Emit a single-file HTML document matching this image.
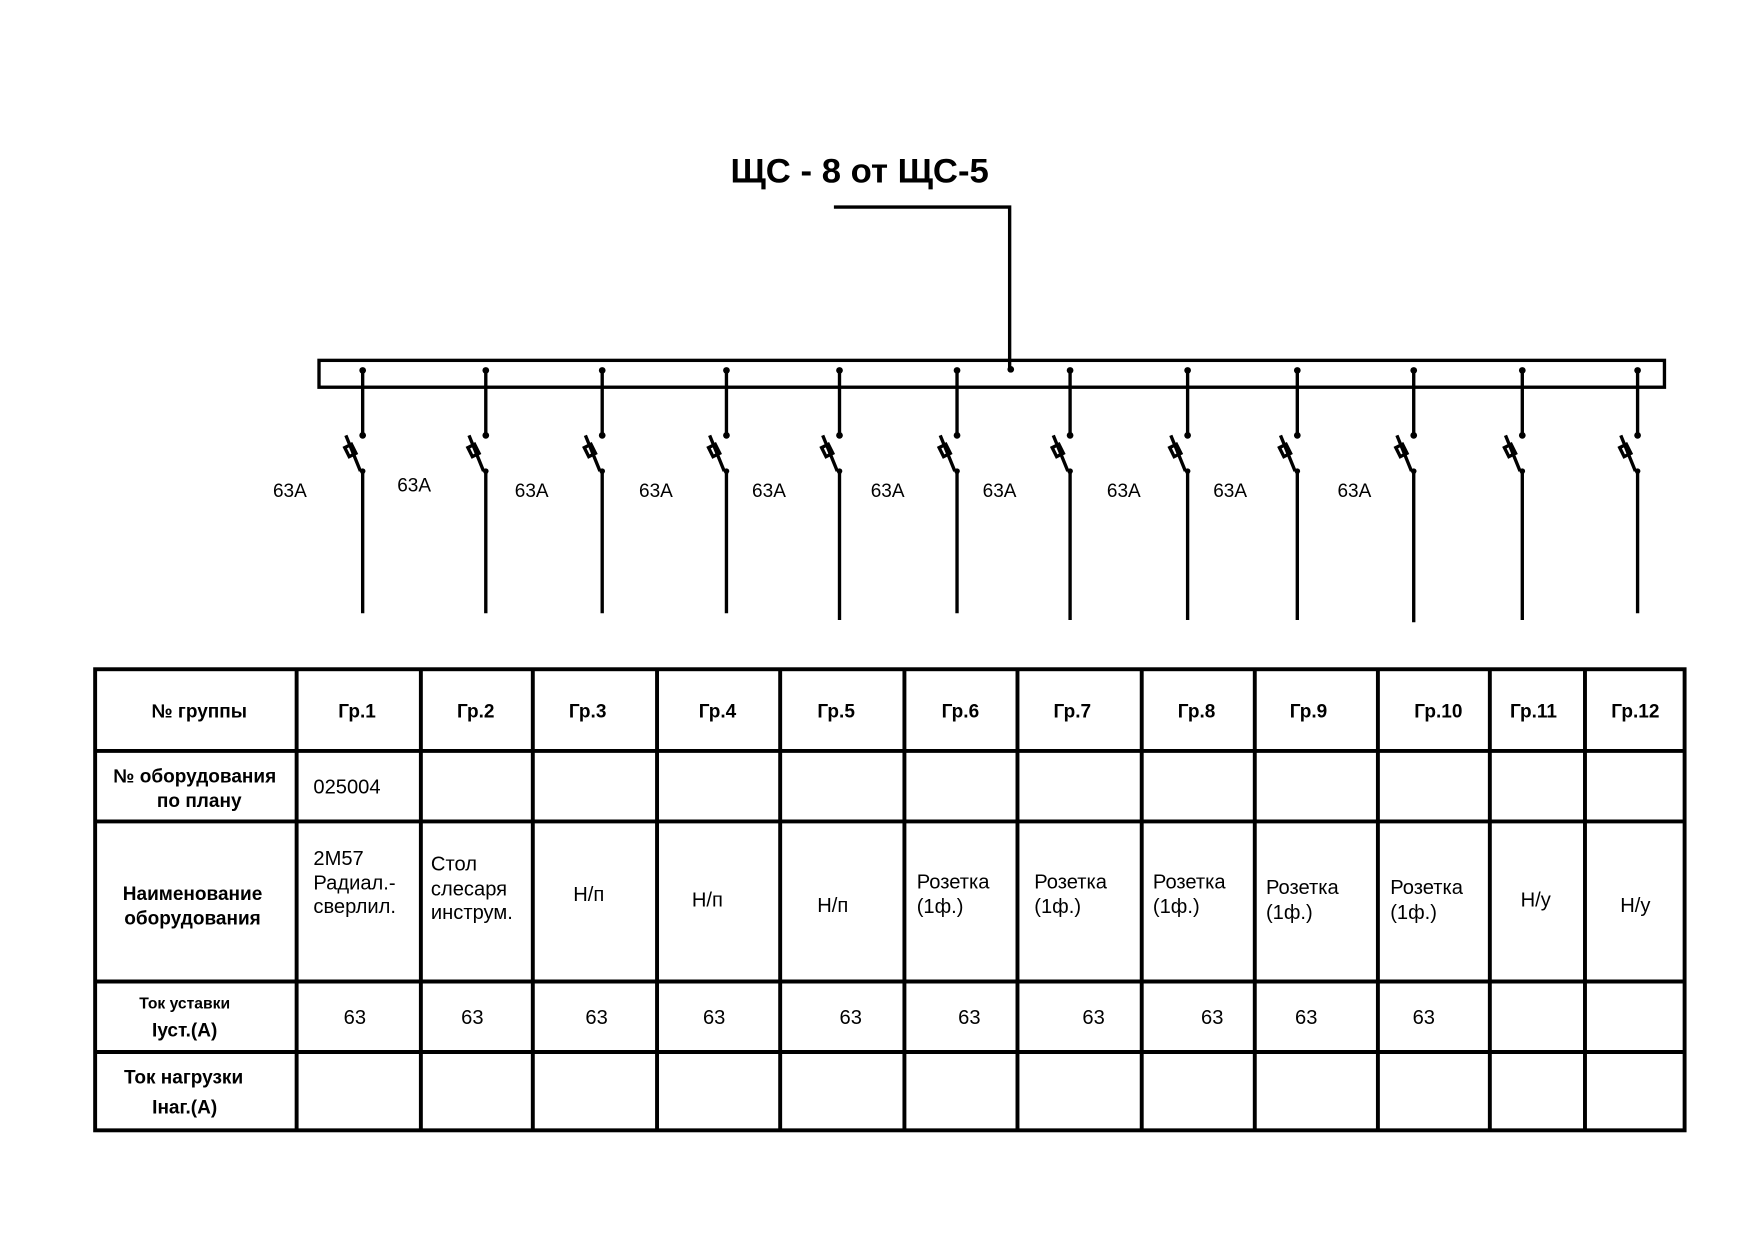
<!DOCTYPE html>
<html><head><meta charset="utf-8"><style>
html,body{margin:0;padding:0;background:#fff;}
svg{display:block;}
text{font-family:"Liberation Sans",Arial,sans-serif;fill:#000;}
.b{font-weight:bold;font-size:17px;}
.r{font-size:18px;}
</style></head><body>
<svg width="1754" height="1240" viewBox="0 0 1567 1108" preserveAspectRatio="none" xmlns="http://www.w3.org/2000/svg">
<rect width="1567" height="1108" fill="#fff"/>
<text x="768" y="163" text-anchor="middle" font-weight="bold" font-size="31">ЩС - 8 от ЩС-5</text>
<polyline points="745,185 902,185 902,330" fill="none" stroke="#000" stroke-width="3"/>
<circle cx="903" cy="330" r="3" fill="#000"/>
<rect x="285" y="322" width="1202" height="24" fill="none" stroke="#000" stroke-width="3"/>
<g font-size="17">
<text x="259" y="444" text-anchor="middle">63A</text>
<text x="370" y="439" text-anchor="middle">63A</text>
<text x="475" y="444" text-anchor="middle">63A</text>
<text x="586" y="444" text-anchor="middle">63A</text>
<text x="687" y="444" text-anchor="middle">63A</text>
<text x="793" y="444" text-anchor="middle">63A</text>
<text x="893" y="444" text-anchor="middle">63A</text>
<text x="1004" y="444" text-anchor="middle">63A</text>
<text x="1099" y="444" text-anchor="middle">63A</text>
<text x="1210" y="444" text-anchor="middle">63A</text>
</g>
<g stroke="#000" stroke-width="3" fill="none">
<path d="M324 331V389M309 389L322 421M324 421V548M308 400l6 -3 4 8 -6 3z"/>
<path d="M434 331V389M419 389L432 421M434 421V548M418 400l6 -3 4 8 -6 3z"/>
<path d="M538 331V389M523 389L536 421M538 421V548M522 400l6 -3 4 8 -6 3z"/>
<path d="M649 331V389M634 389L647 421M649 421V548M633 400l6 -3 4 8 -6 3z"/>
<path d="M750 331V389M735 389L748 421M750 421V554M734 400l6 -3 4 8 -6 3z"/>
<path d="M855 331V389M840 389L853 421M855 421V548M839 400l6 -3 4 8 -6 3z"/>
<path d="M956 331V389M941 389L954 421M956 421V554M940 400l6 -3 4 8 -6 3z"/>
<path d="M1061 331V389M1046 389L1059 421M1061 421V554M1045 400l6 -3 4 8 -6 3z"/>
<path d="M1159 331V389M1144 389L1157 421M1159 421V554M1143 400l6 -3 4 8 -6 3z"/>
<path d="M1263 331V389M1248 389L1261 421M1263 421V556M1247 400l6 -3 4 8 -6 3z"/>
<path d="M1360 331V389M1345 389L1358 421M1360 421V554M1344 400l6 -3 4 8 -6 3z"/>
<path d="M1463 331V389M1448 389L1461 421M1463 421V548M1447 400l6 -3 4 8 -6 3z"/>
</g>
<g fill="#000">
<circle cx="324" cy="331" r="3"/><circle cx="324" cy="389" r="3"/><circle cx="324" cy="421" r="2.5"/>
<circle cx="434" cy="331" r="3"/><circle cx="434" cy="389" r="3"/><circle cx="434" cy="421" r="2.5"/>
<circle cx="538" cy="331" r="3"/><circle cx="538" cy="389" r="3"/><circle cx="538" cy="421" r="2.5"/>
<circle cx="649" cy="331" r="3"/><circle cx="649" cy="389" r="3"/><circle cx="649" cy="421" r="2.5"/>
<circle cx="750" cy="331" r="3"/><circle cx="750" cy="389" r="3"/><circle cx="750" cy="421" r="2.5"/>
<circle cx="855" cy="331" r="3"/><circle cx="855" cy="389" r="3"/><circle cx="855" cy="421" r="2.5"/>
<circle cx="956" cy="331" r="3"/><circle cx="956" cy="389" r="3"/><circle cx="956" cy="421" r="2.5"/>
<circle cx="1061" cy="331" r="3"/><circle cx="1061" cy="389" r="3"/><circle cx="1061" cy="421" r="2.5"/>
<circle cx="1159" cy="331" r="3"/><circle cx="1159" cy="389" r="3"/><circle cx="1159" cy="421" r="2.5"/>
<circle cx="1263" cy="331" r="3"/><circle cx="1263" cy="389" r="3"/><circle cx="1263" cy="421" r="2.5"/>
<circle cx="1360" cy="331" r="3"/><circle cx="1360" cy="389" r="3"/><circle cx="1360" cy="421" r="2.5"/>
<circle cx="1463" cy="331" r="3"/><circle cx="1463" cy="389" r="3"/><circle cx="1463" cy="421" r="2.5"/>
</g>
<g stroke="#000" stroke-width="3.5" fill="none">
<rect x="85" y="598" width="1420" height="412"/>
<path d="M85 671H1505M85 734H1505M85 877H1505M85 940H1505"/>
<path d="M265 598V1010M376 598V1010M476 598V1010M587 598V1010M697 598V1010M808 598V1010M909 598V1010M1020 598V1010M1121 598V1010M1231 598V1010M1331 598V1010M1416 598V1010"/>
</g>
<g>
<text x="178" y="641" text-anchor="middle" class="b">№ группы</text>
<text x="319" y="641" text-anchor="middle" class="b">Гр.1</text>
<text x="425" y="641" text-anchor="middle" class="b">Гр.2</text>
<text x="525" y="641" text-anchor="middle" class="b">Гр.3</text>
<text x="641" y="641" text-anchor="middle" class="b">Гр.4</text>
<text x="747" y="641" text-anchor="middle" class="b">Гр.5</text>
<text x="858" y="641" text-anchor="middle" class="b">Гр.6</text>
<text x="958" y="641" text-anchor="middle" class="b">Гр.7</text>
<text x="1069" y="641" text-anchor="middle" class="b">Гр.8</text>
<text x="1169" y="641" text-anchor="middle" class="b">Гр.9</text>
<text x="1285" y="641" text-anchor="middle" class="b">Гр.10</text>
<text x="1370" y="641" text-anchor="middle" class="b">Гр.11</text>
<text x="1461" y="641" text-anchor="middle" class="b">Гр.12</text>
<text x="174" y="699" text-anchor="middle" class="b">№ оборудования</text>
<text x="178" y="721" text-anchor="middle" class="b">по плану</text>
<text x="172" y="804" text-anchor="middle" class="b">Наименование</text>
<text x="172" y="826" text-anchor="middle" class="b">оборудования</text>
<text x="165" y="901" text-anchor="middle" class="b" style="font-size:14px">Ток уставки</text>
<text x="165" y="926" text-anchor="middle" class="b">Iуст.(А)</text>
<text x="164" y="968" text-anchor="middle" class="b">Ток нагрузки</text>
<text x="165" y="995" text-anchor="middle" class="b">Iнаг.(А)</text>
</g>
<g>
<text x="280" y="709" class="r">025004</text>
<text x="280" y="773" class="r">2M57</text>
<text x="280" y="795" class="r">Радиал.-</text>
<text x="280" y="816" class="r">сверлил.</text>
<text x="385" y="778" class="r">Стол</text>
<text x="385" y="800" class="r">слесаря</text>
<text x="385" y="821" class="r">инструм.</text>
<text x="526" y="805" text-anchor="middle" class="r">Н/п</text>
<text x="632" y="810" text-anchor="middle" class="r">Н/п</text>
<text x="744" y="815" text-anchor="middle" class="r">Н/п</text>
<text x="819" y="794" class="r">Розетка</text><text x="819" y="816" class="r">(1ф.)</text>
<text x="924" y="794" class="r">Розетка</text><text x="924" y="816" class="r">(1ф.)</text>
<text x="1030" y="794" class="r">Розетка</text><text x="1030" y="816" class="r">(1ф.)</text>
<text x="1131" y="799" class="r">Розетка</text><text x="1131" y="821" class="r">(1ф.)</text>
<text x="1242" y="799" class="r">Розетка</text><text x="1242" y="821" class="r">(1ф.)</text>
<text x="1372" y="810" text-anchor="middle" class="r">Н/у</text>
<text x="1461" y="815" text-anchor="middle" class="r">Н/у</text>
<text x="317" y="915" text-anchor="middle" class="r">63</text>
<text x="422" y="915" text-anchor="middle" class="r">63</text>
<text x="533" y="915" text-anchor="middle" class="r">63</text>
<text x="638" y="915" text-anchor="middle" class="r">63</text>
<text x="760" y="915" text-anchor="middle" class="r">63</text>
<text x="866" y="915" text-anchor="middle" class="r">63</text>
<text x="977" y="915" text-anchor="middle" class="r">63</text>
<text x="1083" y="915" text-anchor="middle" class="r">63</text>
<text x="1167" y="915" text-anchor="middle" class="r">63</text>
<text x="1272" y="915" text-anchor="middle" class="r">63</text>
</g>
</svg>
</body></html>
